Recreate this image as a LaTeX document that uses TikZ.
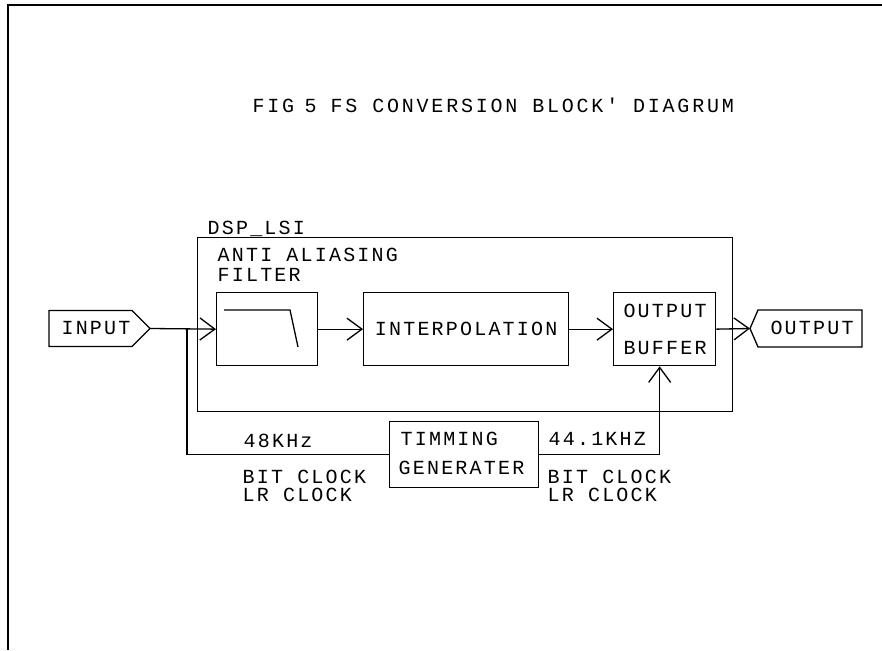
\documentclass[tikz,border=0pt]{standalone}
\usepackage{fontspec}
\setmainfont[LetterSpace=11, Ligatures=TeXOff]{Liberation Mono}
\usetikzlibrary{arrows.meta}
\begin{document}
\begin{tikzpicture}[x=1pt,y=-1pt, line width=1.3pt,
  txt/.style={inner sep=0pt, text height=12pt, text depth=0pt, font=\fontsize{20}{20}\selectfont},
  ttl/.style={txt, font=\fontsize{20}{20}\selectfont\addfontfeatures{LetterSpace=14}},
  box/.style={draw, inner sep=0pt, anchor=north west},
  arr/.style={-{Straight Barb[length=15pt,width=22pt]}}]
\useasboundingbox (0,0) rectangle (882,650);
% frame
\coordinate (fA) at (8,650);
\coordinate (fB) at (8,5);
\coordinate (fC) at (882,5);
\draw (fA) -- (fB) -- (fC);
% title
\node[ttl, anchor=west] (t1) at (252,107) {FIG};
\node[ttl, anchor=west] (t2) at (304,107) {5};
\node[ttl, anchor=west] (t3) at (330,107) {FS CONVERSION BLOCK' DIAGRUM};
% DSP box
\node[txt, anchor=west] (dsplbl) at (207,228) {DSP\_LSI};
\node[box, minimum width=535pt, minimum height=174pt] (dsp) at (197,237) {};
\node[txt, anchor=west] (aa1) at (217,255) {ANTI ALIASING};
\node[txt, anchor=west] (aa2) at (217,275) {FILTER};
% blocks
\node[box, minimum width=101pt, minimum height=73pt] (filt) at (216,292) {};
\draw (224,310) -- (290,310) -- (298,347);
\node[box, minimum width=205pt, minimum height=73pt] (interp) at (363,292) {};
\node[txt] (interpt) at (interp.center) {INTERPOLATION};
\node[box, minimum width=102pt, minimum height=73pt] (buf) at (613,292) {};
\node[txt] (buf1) at (665,311) {OUTPUT};
\node[txt] (buf2) at (665,348) {BUFFER};
\node[box, minimum width=149pt, minimum height=66pt] (tim) at (389,421) {};
\node[txt, anchor=west] (tim1) at (400,439) {TIMMING};
\node[txt, anchor=west] (tim2) at (398,468) {GENERATER};
% input / output pentagons
\coordinate (inTip) at (150,328.5);
\draw (49,310.5) -- (132,310.5) -- (inTip) -- (132,346.5) -- (49,346.5) -- cycle;
\node[txt] (inp) at (96,328.5) {INPUT};
\coordinate (outTip) at (750,328.5);
\draw (outTip) -- (758,310) -- (862,310) -- (862,347) -- (758,347) -- cycle;
\node[txt] (outp) at (812,328.5) {OUTPUT};
% connectors
\draw[arr] (inTip) -- (filt.west);
\draw[arr] (filt.east) -- (interp.west);
\draw[arr] (interp.east) -- (buf.west);
\draw[arr] (buf.east) -- (outTip);
\coordinate (split) at (187,328.5);
\draw (split) |- (tim.west);
\draw[arr] (tim.east) -| ([xshift=-5pt]buf.south);
% clock labels
\node[txt, anchor=west] (l48) at (243,441) {48KHz};
\node[txt, anchor=west] (lb1) at (242,477) {BIT CLOCK};
\node[txt, anchor=west] (lr1) at (242,495) {LR CLOCK};
\node[txt, anchor=west] (l44) at (548,439) {44.1KHZ};
\node[txt, anchor=west] (lb2) at (547,477) {BIT CLOCK};
\node[txt, anchor=west] (lr2) at (547,495) {LR CLOCK};
\end{tikzpicture}
\end{document}
